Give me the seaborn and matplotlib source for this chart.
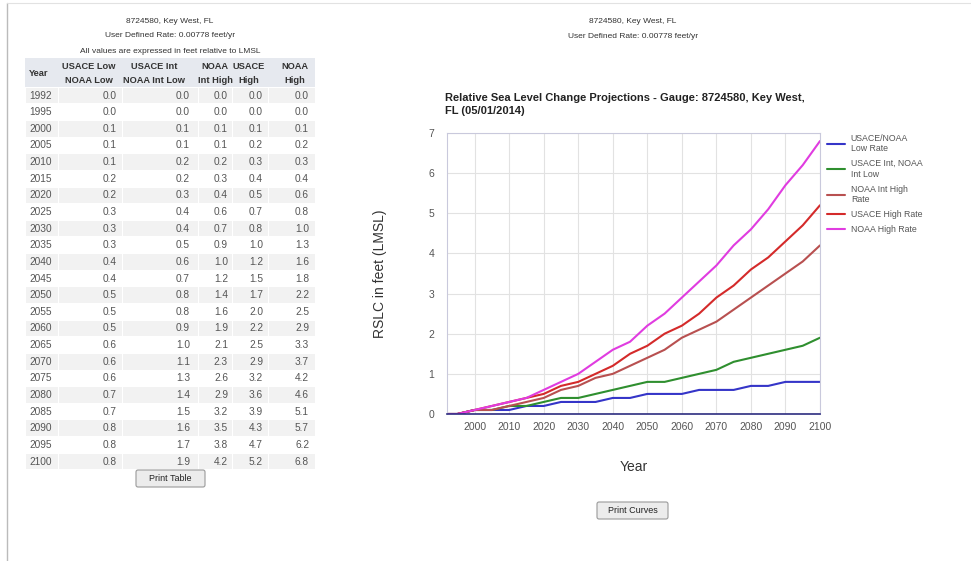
import numpy as np
import matplotlib.pyplot as plt
import pandas as pd
import seaborn as sb
from matplotlib.patches import Rectangle, FancyBboxPatch

# table / curve values (feet relative to LMSL)
years = [1992, 1995, 2000, 2005, 2010, 2015, 2020, 2025, 2030, 2035, 2040, 2045,
         2050, 2055, 2060, 2065, 2070, 2075, 2080, 2085, 2090, 2095, 2100]
usace_low = [0.0, 0.0, 0.1, 0.1, 0.1, 0.2, 0.2, 0.3, 0.3, 0.3, 0.4, 0.4,
             0.5, 0.5, 0.5, 0.6, 0.6, 0.6, 0.7, 0.7, 0.8, 0.8, 0.8]
usace_int = [0.0, 0.0, 0.1, 0.1, 0.2, 0.2, 0.3, 0.4, 0.4, 0.5, 0.6, 0.7,
             0.8, 0.8, 0.9, 1.0, 1.1, 1.3, 1.4, 1.5, 1.6, 1.7, 1.9]
noaa_int_high = [0.0, 0.0, 0.1, 0.1, 0.2, 0.3, 0.4, 0.6, 0.7, 0.9, 1.0, 1.2,
                 1.4, 1.6, 1.9, 2.1, 2.3, 2.6, 2.9, 3.2, 3.5, 3.8, 4.2]
usace_high = [0.0, 0.0, 0.1, 0.2, 0.3, 0.4, 0.5, 0.7, 0.8, 1.0, 1.2, 1.5,
              1.7, 2.0, 2.2, 2.5, 2.9, 3.2, 3.6, 3.9, 4.3, 4.7, 5.2]
noaa_high = [0.0, 0.0, 0.1, 0.2, 0.3, 0.4, 0.6, 0.8, 1.0, 1.3, 1.6, 1.8,
             2.2, 2.5, 2.9, 3.3, 3.7, 4.2, 4.6, 5.1, 5.7, 6.2, 6.8]

col_heads = [("USACE Low", "NOAA Low"), ("USACE Int", "NOAA Int Low"),
             ("NOAA", "Int High"), ("USACE", "High"), ("NOAA", "High")]
curve_names = ["USACE/NOAA\nLow Rate", "USACE Int, NOAA\nInt Low", "NOAA Int High\nRate",
               "USACE High Rate", "NOAA High Rate"]
curve_colors = ["#3535c8", "#2f8f2f", "#b85050", "#d42a2a", "#e03ce0"]
x_ticks = list(range(2000, 2101, 10))
y_ticks = list(range(0, 8))

station = "8724580, Key West, FL"
rate_txt = "User Defined Rate: 0.00778 feet/yr"

sb.set_theme(style="whitegrid")
plt.rcParams['font.family'] = ['Liberation Sans', 'DejaVu Sans']

fig = plt.figure(figsize=(9.71, 5.61), dpi=100)
fig.patch.set_facecolor("white")

# page layer in pixel coords
bg = fig.add_axes([0, 0, 1, 1], zorder=-1)
bg.set_xlim(0, 971)
bg.set_ylim(561, 0)
bg.axis("off")
bg.plot([7, 7], [3, 561], color="#bbbbbb", lw=1)
bg.plot([7, 971], [3, 3], color="#e2e2e2", lw=0.8)

txtc = "#333333"
bg.text(170, 21, station, ha="center", va="center", fontsize=6, color=txtc)
bg.text(170, 35, rate_txt, ha="center", va="center", fontsize=6, color=txtc)
bg.text(170, 51, "All values are expressed in feet relative to LMSL", ha="center",
        va="center", fontsize=6, color=txtc)
bg.text(633, 21, station, ha="center", va="center", fontsize=6, color=txtc)
bg.text(633, 36, rate_txt, ha="center", va="center", fontsize=6, color=txtc)

# table
cols_x = [25, 58, 122, 198, 232, 268, 315]
val_right = [117, 190, 228, 263, 309]
head_c = [89, 154, 215, 249, 295]
bg.add_patch(Rectangle((25, 58), 290, 29, color="#e6e9ef", lw=0))
bg.text(29, 73, "Year", ha="left", va="center", fontsize=6.7, fontweight="bold", color="#333")
for c, (h1, h2) in enumerate(col_heads):
    bg.text(head_c[c], 66, h1, ha="center", va="center", fontsize=6.7, fontweight="bold", color="#333")
    bg.text(head_c[c], 80, h2, ha="center", va="center", fontsize=6.7, fontweight="bold", color="#333")

row_h = 16.64
series = [usace_low, usace_int, noaa_int_high, usace_high, noaa_high]
for i, yr in enumerate(years):
    yc = 95.5 + i * row_h
    if i % 2 == 0:
        for c in range(len(cols_x) - 1):
            bg.add_patch(Rectangle((cols_x[c] + 0.5, yc - row_h / 2 + 0.5),
                                   cols_x[c + 1] - cols_x[c] - 1, row_h - 1,
                                   color="#f2f2f2", lw=0))
    bg.text(29, yc, str(yr), ha="left", va="center", fontsize=7.3, color="#555")
    for c, s in enumerate(series):
        bg.text(val_right[c], yc, "%.1f" % s[i], ha="right", va="center", fontsize=7.3, color="#555")

# buttons
for (bx, by, bw, label) in [(136, 470, 69, "Print Table"), (597, 502, 71, "Print Curves")]:
    bg.add_patch(FancyBboxPatch((bx, by), bw, 17, boxstyle="round,pad=0,rounding_size=2",
                                fc="#ececec", ec="#9a9a9a", lw=0.8))
    bg.text(bx + bw / 2, by + 8.5, label, ha="center", va="center", fontsize=6.5, color="#222")

# chart
ax = fig.add_axes([447 / 971, 1 - 414 / 561, 373 / 971, 281 / 561])
df = pd.DataFrame({"Year": years * 5,
                   "RSLC": usace_low + usace_int + noaa_int_high + usace_high + noaa_high,
                   "Curve": sum([[n] * len(years) for n in curve_names], [])})
sb.lineplot(data=df, x="Year", y="RSLC", hue="Curve", hue_order=curve_names,
            palette=curve_colors, ax=ax, lw=1.5)
ax.set_xlim(1992, 2100)
ax.set_ylim(0, 7)
ax.set_xticks(x_ticks)
ax.set_yticks(y_ticks)
ax.set_facecolor("white")
ax.grid(True, color="#e2e2e2", lw=0.8)
for side in ["top", "right", "left"]:
    ax.spines[side].set_color("#c9c9dc")
    ax.spines[side].set_linewidth(0.8)
ax.spines["bottom"].set_color("#2d2d80")
ax.spines["bottom"].set_linewidth(1.2)
ax.tick_params(axis="both", length=0, labelsize=7.5, labelcolor="#555555")
ax.tick_params(axis="x", pad=6)
ax.tick_params(axis="y", pad=9)
ax.set_xlabel("Year", fontsize=10, color="#333333", labelpad=20)
ax.set_ylabel("RSLC in feet (LMSL)", fontsize=10, color="#333333", labelpad=30)
ax.set_title("Relative Sea Level Change Projections - Gauge: 8724580, Key West,\nFL (05/01/2014)",
             loc="left", fontsize=8, fontweight="bold", color="#222222", pad=14, x=-0.005,
             linespacing=1.3)
leg = ax.legend(loc="upper left", bbox_to_anchor=(1.01, 1.01), frameon=False,
                fontsize=6.3, handlelength=2.0, handletextpad=0.7, labelspacing=0.7,
                borderaxespad=0)
for t in leg.get_texts():
    t.set_color("#555555")
for h in leg.get_lines():
    h.set_linewidth(1.5)

fig.savefig("out.png", dpi=100, facecolor="white")
